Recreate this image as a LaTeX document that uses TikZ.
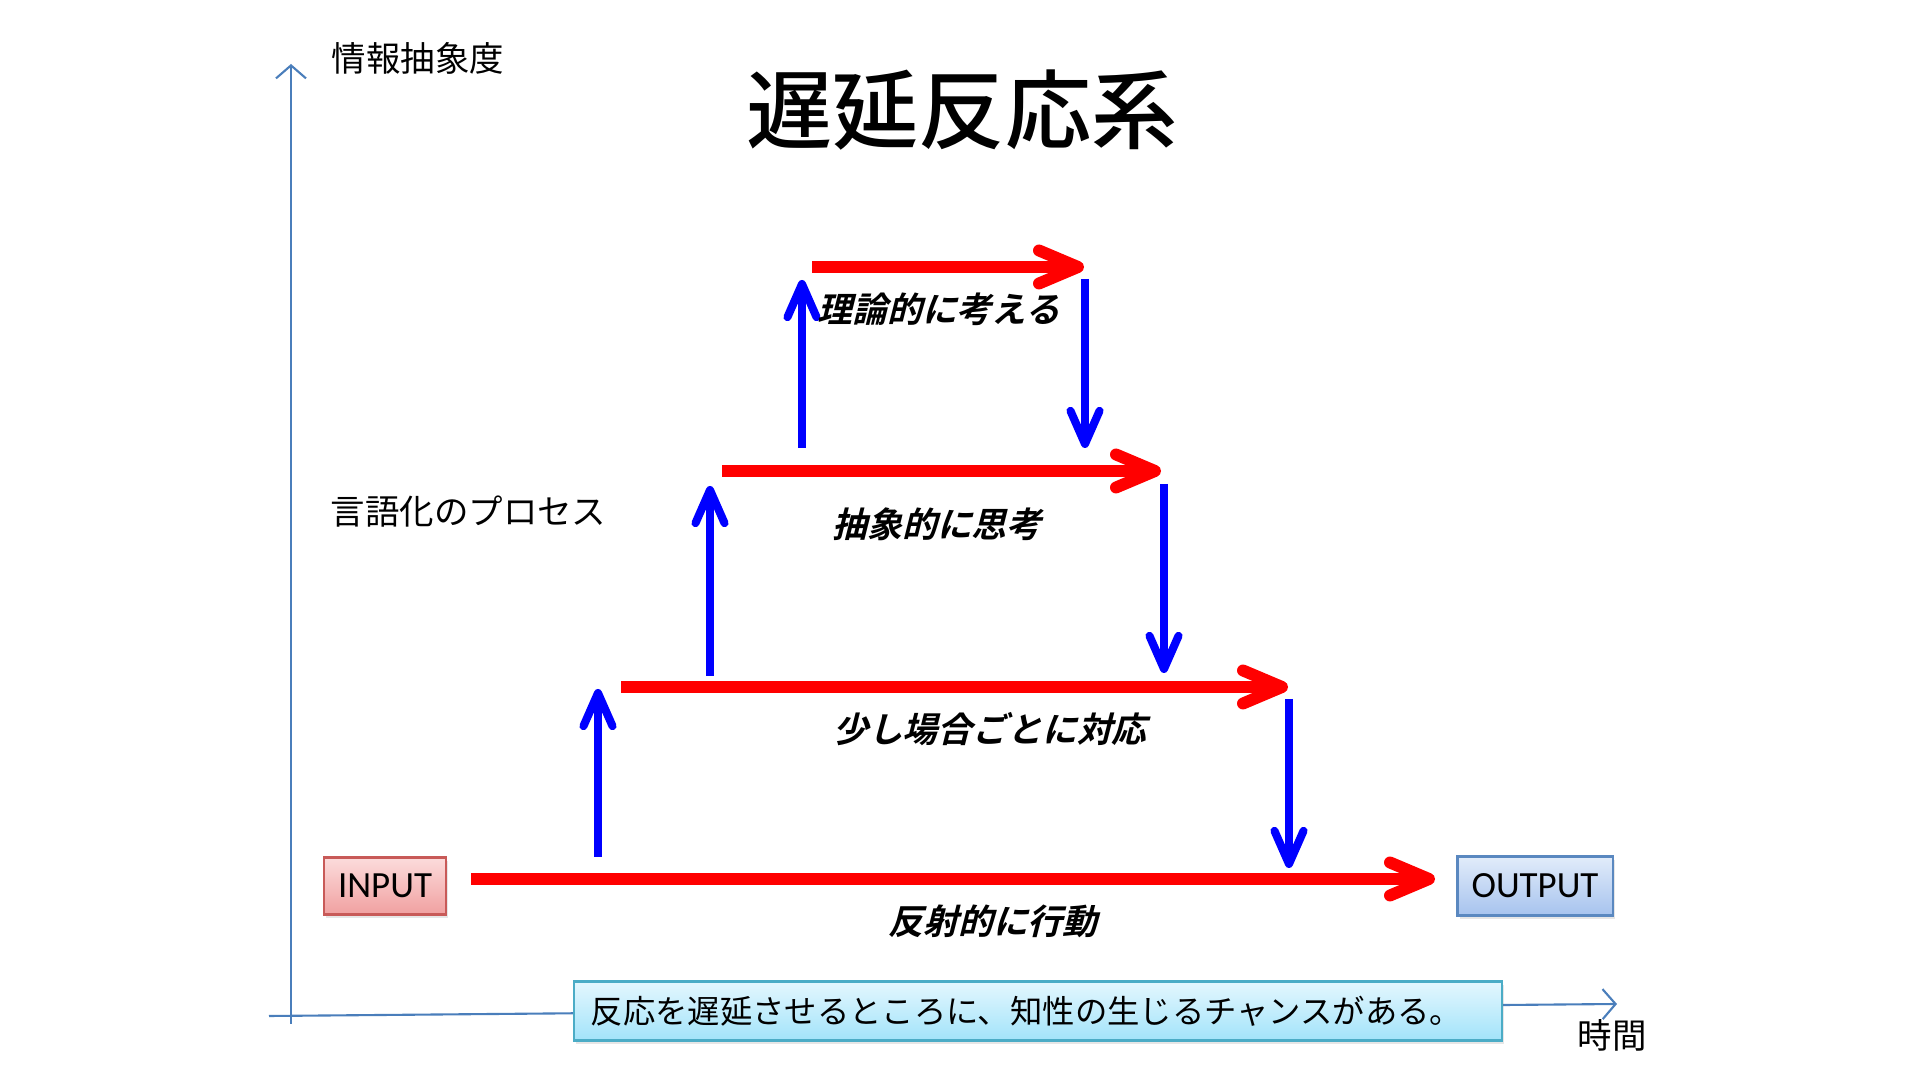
\documentclass[tikz,border=0pt]{standalone}
\usepackage{fontspec}
\setmainfont{Noto Sans CJK JP}
\newfontfamily\cjkbi{Noto Sans CJK JP Bold}[FakeSlant=0.25]
\newfontfamily\cjkmed{Noto Sans CJK JP Medium}
\newfontfamily\carl{Carlito}
\usetikzlibrary{arrows.meta,shadows}
\definecolor{axisblue}{HTML}{4A7EBB}
\definecolor{inborder}{HTML}{C85A58}
\definecolor{intop}{HTML}{FCDCDC}
\definecolor{inbot}{HTML}{F0A0A0}
\definecolor{outborder}{HTML}{5A88C0}
\definecolor{outtop}{HTML}{E2ECFA}
\definecolor{outbot}{HTML}{A6C3EE}
\definecolor{msgborder}{HTML}{4BACC6}
\definecolor{msgtop}{HTML}{E4F7FE}
\definecolor{msgbot}{HTML}{A2E3FA}
\tikzset{
  axisline/.style={draw=axisblue, line width=0.6pt, -{Straight Barb[length=1.3mm,width=3mm]}},
  redarr/.style={draw=red, line width=3.4pt, -{Straight Barb[length=3.9mm,width=3.3mm,round]}},
  bluearr/.style={draw=blue, line width=2.3pt, -{Straight Barb[length=3.3mm,width=2.9mm,round]}},
  plainlabel/.style={font=\fontsize{9.8}{12}\selectfont, inner sep=0pt},
  stagelabel/.style={font=\cjkbi\fontsize{9.9}{12}\selectfont, inner sep=0pt},
  iobox/.style={inner sep=0pt, line width=0.6pt, font=\carl\fontsize{10.5}{12}\selectfont,
    drop shadow={shadow xshift=0.6pt, shadow yshift=-1pt, opacity=0.2}},
}
\begin{document}
\begin{tikzpicture}[x=0.01cm,y=-0.01cm]
\useasboundingbox (0,0) rectangle (1920,1080);
% axes
\coordinate (v0) at (291,1024);
\coordinate (v1) at (291,64);
\coordinate (h0) at (269,1016);
\coordinate (h1) at (1617,1004);
\draw[axisline] (v0) -- (v1);
\draw[axisline] (h0) -- (h1);
% texts
\node[plainlabel] (ylab) at (418,58) {情報抽象度};
\node[font=\cjkmed\fontsize{24.5}{30}\selectfont, inner sep=0pt] (title) at (962,110) {遅延反応系};
\node[plainlabel, anchor=west] (proc) at (330,512) {言語化のプロセス};
\node[plainlabel] (tlab) at (1612,1035) {時間};
% boxes
\node[iobox, draw=inborder, top color=intop, bottom color=inbot,
      minimum width=1.22cm, minimum height=0.57cm] (in) at (385,886) {INPUT};
\node[iobox, draw=outborder, top color=outtop, bottom color=outbot,
      minimum width=1.55cm, minimum height=0.59cm] (out) at (1535,886) {OUTPUT};
\node[iobox, draw=msgborder, top color=msgtop, bottom color=msgbot,
      minimum width=9.28cm, minimum height=0.59cm] (msg) at (1038,1011) {};
\node[font=\fontsize{9.2}{12}\selectfont, inner sep=0pt, anchor=west] (msgtext) at (590,1011)
      {反応を遅延させるところに、知性の生じるチャンスがある。};
% red horizontal arrows
\coordinate (r1a) at (812,267);  \coordinate (r1b) at (1084,267);
\coordinate (r2a) at (722,471);  \coordinate (r2b) at (1161,471);
\coordinate (r3a) at (621,687);  \coordinate (r3b) at (1288,687);
\coordinate (r4a) at (471,879);  \coordinate (r4b) at (1435,879);
\draw[redarr] (r1a) -- (r1b);
\draw[redarr] (r2a) -- (r2b);
\draw[redarr] (r3a) -- (r3b);
\draw[redarr] (r4a) -- (r4b);
% blue up arrows
\coordinate (u1a) at (802,448); \coordinate (u1b) at (802,280);
\coordinate (u2a) at (710,676); \coordinate (u2b) at (710,486);
\coordinate (u3a) at (598,857); \coordinate (u3b) at (598,689);
\draw[bluearr] (u1a) -- (u1b);
\draw[bluearr] (u2a) -- (u2b);
\draw[bluearr] (u3a) -- (u3b);
% blue down arrows
\coordinate (d1a) at (1085,279);  \coordinate (d1b) at (1085,448);
\coordinate (d2a) at (1164,484);  \coordinate (d2b) at (1164,673);
\coordinate (d3a) at (1289,699);  \coordinate (d3b) at (1289,868);
\draw[bluearr] (d1a) -- (d1b);
\draw[bluearr] (d2a) -- (d2b);
\draw[bluearr] (d3a) -- (d3b);
% stage labels
\node[stagelabel] (s1) at (939,309) {理論的に考える};
\node[stagelabel] (s2) at (937,524) {抽象的に思考};
\node[stagelabel] (s3) at (990,729) {少し場合ごとに対応};
\node[stagelabel] (s4) at (993,921) {反射的に行動};
\end{tikzpicture}
\end{document}
